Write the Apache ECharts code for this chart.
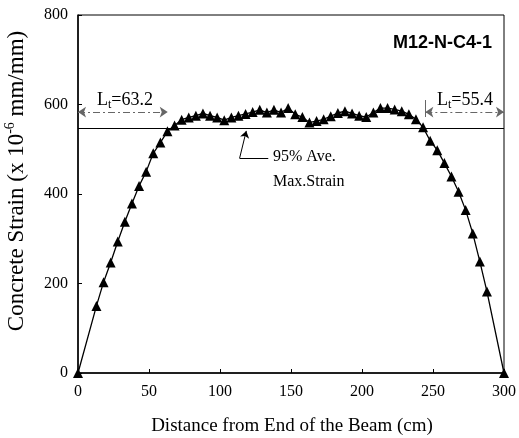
<!DOCTYPE html>
<html>
<head>
<meta charset="utf-8">
<script src="https://cdn.jsdelivr.net/npm/echarts@6/dist/echarts.min.js"></script>
<style>
  html, body { margin: 0; padding: 0; background: #fff; }
  #main { width: 519px; height: 438px; }
</style>
</head>
<body>
<div id="main"></div>
<script>
// distance from the beam end (cm) and concrete strain (x 10^-6)
var distance = [0, 13, 18, 23, 28, 33, 38, 43, 48, 53, 58, 63, 68, 73, 78, 83, 88, 93, 98, 103,
  108, 113, 118, 123, 128, 133, 138, 143, 148, 153, 158, 163, 168, 173, 178, 183, 188, 193, 198, 203,
  208, 213, 218, 223, 228, 233, 238, 243, 248, 253, 258, 263, 268, 273, 278, 283, 288, 300];
var strain = [0, 150, 203, 247, 294, 338, 379, 418, 450, 491, 515, 540, 553, 566, 571, 575, 580, 575, 571, 565,
  571, 575, 579, 583, 588, 582, 588, 582, 592, 578, 572, 560, 563, 567, 574, 581, 585, 580, 575, 572,
  582, 592, 592, 589, 585, 578, 567, 549, 519, 498, 469, 439, 405, 364, 312, 249, 182, 0];
var xTicks = [0, 50, 100, 150, 200, 250, 300];
var yTicks = [0, 200, 400, 600, 800];

var aveMaxStrain95 = 548;   // 95% ave. max strain
var ltLeft = 63.2;
var ltRight = 55.4;
var ltArrowY = 583;
var beamLength = 300;

var serif = '"Liberation Serif", "DejaVu Serif", serif';

var chartDom = document.getElementById('main');
var myChart = echarts.init(chartDom);
var option;

var points = distance.map(function (d, i) { return [d, strain[i]]; });

var ltRich = {
  a: { fontFamily: serif, fontSize: 18, lineHeight: 22, fill: '#000' },
  s: { fontFamily: serif, fontSize: 12, lineHeight: 12, verticalAlign: 'bottom', fill: '#000' }
};

option = {
  animation: false,
  backgroundColor: '#fff',
  grid: {
    left: 78, right: 14, top: 15, bottom: 65,
    show: true, borderColor: '#000', borderWidth: 1
  },
  xAxis: {
    type: 'value',
    min: xTicks[0], max: xTicks[xTicks.length - 1], interval: 50,
    splitLine: { show: false },
    axisLine: { lineStyle: { color: '#000', width: 1.5 } },
    axisTick: { inside: true, length: 4, lineStyle: { color: '#000' } },
    axisLabel: { color: '#000', fontFamily: serif, fontSize: 16, margin: 11 }
  },
  yAxis: {
    type: 'value',
    min: yTicks[0], max: yTicks[yTicks.length - 1], interval: 200,
    splitLine: { show: false },
    axisLine: { show: true, lineStyle: { color: '#000', width: 1.5 } },
    axisTick: { show: true, inside: true, length: 4, lineStyle: { color: '#000' } },
    axisLabel: { color: '#000', fontFamily: serif, fontSize: 16, margin: 10 }
  },
  series: [
    {
      type: 'line',
      data: points,
      symbol: 'triangle',
      symbolSize: 10,
      itemStyle: { color: '#000' },
      lineStyle: { color: '#000', width: 1.3 },
      z: 5,
      markLine: {
        silent: true,
        animation: false,
        label: { show: false },
        data: [
          // 95% ave. max strain line
          [
            { coord: [0, aveMaxStrain95], symbol: 'none', lineStyle: { color: '#000', width: 1.2, type: 'solid' } },
            { coord: [beamLength, aveMaxStrain95], symbol: 'none' }
          ],
          // Lt arrows
          [
            { coord: [0, ltArrowY], symbol: 'arrow', symbolSize: 8, lineStyle: { color: '#666', width: 1, type: [7, 3, 2, 3] } },
            { coord: [ltLeft, ltArrowY], symbol: 'arrow', symbolSize: 8 }
          ],
          [
            { coord: [beamLength - ltRight, ltArrowY], symbol: 'arrow', symbolSize: 8, lineStyle: { color: '#666', width: 1, type: [7, 3, 2, 3] } },
            { coord: [beamLength, ltArrowY], symbol: 'arrow', symbolSize: 8 }
          ],
          [
            { coord: [beamLength - ltRight, 572], symbol: 'none', lineStyle: { color: '#666', width: 1, type: 'solid' } },
            { coord: [beamLength - ltRight, 610], symbol: 'none' }
          ],
          // leader for the 95% label
          [
            { coord: [113.8, 480], symbol: 'none', lineStyle: { color: '#000', width: 1, type: 'solid' } },
            { coord: [118.5, 541], symbol: 'arrow', symbolSize: 7 }
          ],
          [
            { coord: [113.8, 480], symbol: 'none', lineStyle: { color: '#000', width: 1, type: 'solid' } },
            { coord: [134, 480], symbol: 'none' }
          ]
        ]
      }
    }
  ],
  graphic: [
    {
      type: 'text', x: 292, y: 426,
      style: {
        text: 'Distance from End of the Beam (cm)',
        font: '19px ' + serif, fill: '#000', align: 'center', verticalAlign: 'middle'
      }
    },
    {
      type: 'text', x: 17, y: 181, rotation: Math.PI / 2,
      style: {
        text: '{a|Concrete Strain (x 10}{s|-6}{a| mm/mm)}',
        align: 'center', verticalAlign: 'middle', fill: '#000',
        rich: {
          a: { fontFamily: serif, fontSize: 23, lineHeight: 28, fill: '#000' },
          s: { fontFamily: serif, fontSize: 14, lineHeight: 14, verticalAlign: 'top', fill: '#000' }
        }
      }
    },
    {
      type: 'text', x: 492, y: 43,
      style: {
        text: 'M12-N-C4-1',
        font: 'bold 18px "Liberation Sans", Arial, sans-serif', fill: '#000', align: 'right', verticalAlign: 'middle'
      }
    },
    {
      type: 'text', x: 97, y: 100,
      style: { text: '{a|L}{s|t}{a|=63.2}', align: 'left', verticalAlign: 'middle', rich: ltRich }
    },
    {
      type: 'text', x: 437, y: 100,
      style: { text: '{a|L}{s|t}{a|=55.4}', align: 'left', verticalAlign: 'middle', rich: ltRich }
    },
    {
      type: 'text', x: 273, y: 157,
      style: { text: '95% Ave.', font: '16px ' + serif, fill: '#000', align: 'left', verticalAlign: 'middle' }
    },
    {
      type: 'text', x: 273, y: 182,
      style: { text: 'Max.Strain', font: '16px ' + serif, fill: '#000', align: 'left', verticalAlign: 'middle' }
    }
  ]
};

option && myChart.setOption(option);
</script>
</body>
</html>
